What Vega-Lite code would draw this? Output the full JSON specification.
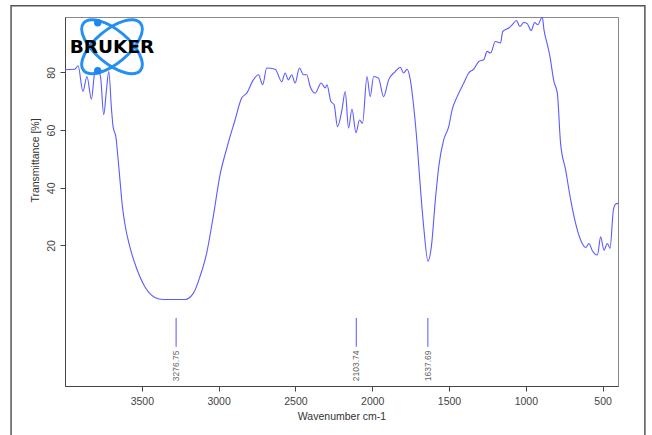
{
  "$schema": "https://vega.github.io/schema/vega-lite/v6.json",
  "width": 553,
  "height": 369,
  "autosize": {"type": "none"},
  "padding": {"left": 65, "top": 17, "right": 34, "bottom": 49},
  "background": "white",
  "datasets": {
    "spectrum": [
      {"wn": 4000, "T": 80.9}, {"wn": 3937, "T": 81.1}, {"wn": 3915, "T": 82.3}, {"wn": 3883, "T": 73.4},
      {"wn": 3857, "T": 78.6}, {"wn": 3828, "T": 70.7}, {"wn": 3806, "T": 79.8}, {"wn": 3785, "T": 80.3},
      {"wn": 3769, "T": 78.6}, {"wn": 3748, "T": 65.3}, {"wn": 3730, "T": 74.0}, {"wn": 3715, "T": 80.3},
      {"wn": 3697, "T": 67.0}, {"wn": 3687, "T": 61.2}, {"wn": 3669, "T": 57.7}, {"wn": 3648, "T": 46.2},
      {"wn": 3626, "T": 33.4}, {"wn": 3611, "T": 27.7}, {"wn": 3578, "T": 19.6}, {"wn": 3534, "T": 12.1},
      {"wn": 3480, "T": 5.7}, {"wn": 3415, "T": 2.0}, {"wn": 3361, "T": 1.3}, {"wn": 3219, "T": 1.3},
      {"wn": 3165, "T": 3.4}, {"wn": 3122, "T": 9.1}, {"wn": 3078, "T": 17.3}, {"wn": 3035, "T": 30.0},
      {"wn": 2991, "T": 44.4}, {"wn": 2947, "T": 53.7}, {"wn": 2893, "T": 63.5}, {"wn": 2850, "T": 71.1},
      {"wn": 2817, "T": 72.8}, {"wn": 2774, "T": 77.4}, {"wn": 2741, "T": 79.2}, {"wn": 2713, "T": 75.7},
      {"wn": 2687, "T": 81.5}, {"wn": 2632, "T": 81.1}, {"wn": 2589, "T": 76.8}, {"wn": 2567, "T": 79.8},
      {"wn": 2546, "T": 77.4}, {"wn": 2524, "T": 79.2}, {"wn": 2502, "T": 76.3}, {"wn": 2474, "T": 81.5},
      {"wn": 2448, "T": 79.2}, {"wn": 2426, "T": 79.2}, {"wn": 2404, "T": 75.1}, {"wn": 2372, "T": 72.8},
      {"wn": 2332, "T": 76.3}, {"wn": 2306, "T": 74.6}, {"wn": 2295, "T": 75.7}, {"wn": 2269, "T": 69.9},
      {"wn": 2248, "T": 68.8}, {"wn": 2226, "T": 61.2}, {"wn": 2197, "T": 67.0}, {"wn": 2176, "T": 73.4},
      {"wn": 2154, "T": 60.7}, {"wn": 2132, "T": 67.3}, {"wn": 2106, "T": 59.1}, {"wn": 2083, "T": 63.5},
      {"wn": 2063, "T": 62.4}, {"wn": 2034, "T": 78.6}, {"wn": 2013, "T": 71.6}, {"wn": 1991, "T": 78.6},
      {"wn": 1959, "T": 78.0}, {"wn": 1926, "T": 71.6}, {"wn": 1893, "T": 77.4}, {"wn": 1850, "T": 80.3},
      {"wn": 1817, "T": 81.8}, {"wn": 1796, "T": 79.8}, {"wn": 1773, "T": 81.1}, {"wn": 1752, "T": 77.4},
      {"wn": 1730, "T": 68.2}, {"wn": 1708, "T": 55.5}, {"wn": 1687, "T": 40.4}, {"wn": 1665, "T": 26.5},
      {"wn": 1637, "T": 14.6}, {"wn": 1615, "T": 19.6}, {"wn": 1589, "T": 35.8}, {"wn": 1567, "T": 47.3},
      {"wn": 1535, "T": 56.6}, {"wn": 1502, "T": 61.2}, {"wn": 1480, "T": 67.0}, {"wn": 1447, "T": 71.6},
      {"wn": 1404, "T": 76.3}, {"wn": 1372, "T": 79.8}, {"wn": 1339, "T": 81.1}, {"wn": 1306, "T": 83.8},
      {"wn": 1274, "T": 84.4}, {"wn": 1252, "T": 87.3}, {"wn": 1230, "T": 86.7}, {"wn": 1198, "T": 90.7},
      {"wn": 1165, "T": 90.2}, {"wn": 1150, "T": 94.2}, {"wn": 1111, "T": 95.4}, {"wn": 1089, "T": 96.5},
      {"wn": 1061, "T": 98.0}, {"wn": 1039, "T": 95.9}, {"wn": 1013, "T": 97.3}, {"wn": 991, "T": 96.9},
      {"wn": 965, "T": 94.5}, {"wn": 943, "T": 97.3}, {"wn": 922, "T": 96.5}, {"wn": 893, "T": 99.2},
      {"wn": 882, "T": 94.8}, {"wn": 857, "T": 89.0}, {"wn": 843, "T": 85.5}, {"wn": 817, "T": 76.8},
      {"wn": 795, "T": 72.8}, {"wn": 774, "T": 55.5}, {"wn": 741, "T": 46.2}, {"wn": 708, "T": 35.8},
      {"wn": 676, "T": 27.7}, {"wn": 643, "T": 21.9}, {"wn": 610, "T": 19.3}, {"wn": 589, "T": 20.7},
      {"wn": 567, "T": 18.2}, {"wn": 534, "T": 16.7}, {"wn": 513, "T": 23.0}, {"wn": 491, "T": 18.4},
      {"wn": 469, "T": 20.7}, {"wn": 452, "T": 19.0}, {"wn": 430, "T": 32.3}, {"wn": 415, "T": 34.4},
      {"wn": 400, "T": 34.6}
    ],
    "peaks": [
      {"wn": 3276.75, "label": "3276.75"},
      {"wn": 2103.74, "label": "2103.74"},
      {"wn": 1637.69, "label": "1637.69"}
    ]
  },
  "layer": [
    {
      "data": {"values": [{}]},
      "mark": {"type": "rect", "filled": false, "stroke": "#555555", "strokeWidth": 1.5, "clip": false},
      "encoding": {
        "x": {"datum": 4351, "type": "quantitative", "scale": {"domain": [400, 4000], "reverse": true, "nice": false, "zero": false}},
        "x2": {"datum": 225},
        "y": {"datum": 103.1, "type": "quantitative", "scale": {"domain": [-28.7, 99.2], "nice": false, "zero": false}},
        "y2": {"datum": -60}
      }
    },
    {
      "data": {"name": "spectrum"},
      "mark": {"type": "line", "color": "#5b5bff", "strokeWidth": 1.1, "interpolate": "monotone", "clip": true},
      "encoding": {
        "x": {
          "field": "wn", "type": "quantitative",
          "scale": {"domain": [400, 4000], "reverse": true, "nice": false, "zero": false},
          "axis": {
            "values": [3500, 3000, 2500, 2000, 1500, 1000, 500],
            "format": "d",
            "title": "Wavenumber cm-1",
            "labelPadding": 5,
            "titlePadding": 5
          }
        },
        "y": {
          "field": "T", "type": "quantitative",
          "scale": {"domain": [-28.7, 99.2], "nice": false, "zero": false},
          "axis": {
            "values": [20, 40, 60, 80],
            "title": "Transmittance [%]",
            "labelAngle": 270,
            "labelPadding": 4,
            "titleX": -30,
            "titleY": 143,
            "titleAngle": 270,
            "titleAlign": "center",
            "titleBaseline": "middle"
          }
        }
      }
    },
    {
      "data": {"name": "peaks"},
      "mark": {"type": "rule", "color": "#5555ff", "strokeWidth": 1},
      "encoding": {
        "x": {"field": "wn", "type": "quantitative"},
        "y": {"datum": -5.1, "type": "quantitative"},
        "y2": {"datum": -15.1}
      }
    },
    {
      "data": {"name": "peaks"},
      "mark": {"type": "text", "angle": 270, "align": "right", "baseline": "middle", "font": "Liberation Sans", "fontSize": 8.5, "color": "#666666"},
      "encoding": {
        "x": {"field": "wn", "type": "quantitative"},
        "y": {"datum": -16.4, "type": "quantitative"},
        "text": {"field": "label"}
      }
    },
    {
      "data": {"values": [{}]},
      "mark": {"type": "point", "shape": "M-1,0C-1,-0.2485,-0.5523,-0.45,0,-0.45C0.5523,-0.45,1,-0.2485,1,0C1,0.2485,0.5523,0.45,0,0.45C-0.5523,0.45,-1,0.2485,-1,0Z", "size": 5476, "angle": 40, "filled": false, "stroke": "#2590f2", "strokeWidth": 3, "opacity": 1, "clip": false},
      "encoding": {
        "x": {"datum": 3694, "type": "quantitative"},
        "y": {"datum": 88.9, "type": "quantitative"}
      }
    },
    {
      "data": {"values": [{}]},
      "mark": {"type": "point", "shape": "M-1,0C-1,-0.2485,-0.5523,-0.45,0,-0.45C0.5523,-0.45,1,-0.2485,1,0C1,0.2485,0.5523,0.45,0,0.45C-0.5523,0.45,-1,0.2485,-1,0Z", "size": 5476, "angle": 320, "filled": false, "stroke": "#2590f2", "strokeWidth": 3, "opacity": 1, "clip": false},
      "encoding": {
        "x": {"datum": 3694, "type": "quantitative"},
        "y": {"datum": 88.9, "type": "quantitative"}
      }
    },
    {
      "data": {"values": [{"T": 97.2}, {"T": 80.6}]},
      "mark": {"type": "circle", "size": 55, "color": "#1f86ee", "opacity": 1, "clip": false},
      "encoding": {
        "x": {"datum": 3787, "type": "quantitative"},
        "y": {"field": "T", "type": "quantitative"}
      }
    },
    {
      "data": {"values": [{}]},
      "mark": {"type": "text", "text": "BRUKER", "font": "DejaVu Sans", "fontWeight": "bold", "fontSize": 18.5, "color": "#000000", "align": "center", "baseline": "middle", "clip": false},
      "encoding": {
        "x": {"datum": 3694, "type": "quantitative"},
        "y": {"datum": 88.7, "type": "quantitative"}
      }
    }
  ],
  "config": {
    "view": {"stroke": "#888888", "strokeWidth": 1},
    "font": "Liberation Sans",
    "axis": {
      "grid": false,
      "domainColor": "#444444",
      "tickColor": "#444444",
      "tickSize": 5,
      "labelFont": "Liberation Sans",
      "labelFontSize": 10.5,
      "labelColor": "#444444",
      "titleFont": "Liberation Sans",
      "titleFontSize": 10.5,
      "titleFontWeight": "normal",
      "titleColor": "#333333"
    }
  }
}
